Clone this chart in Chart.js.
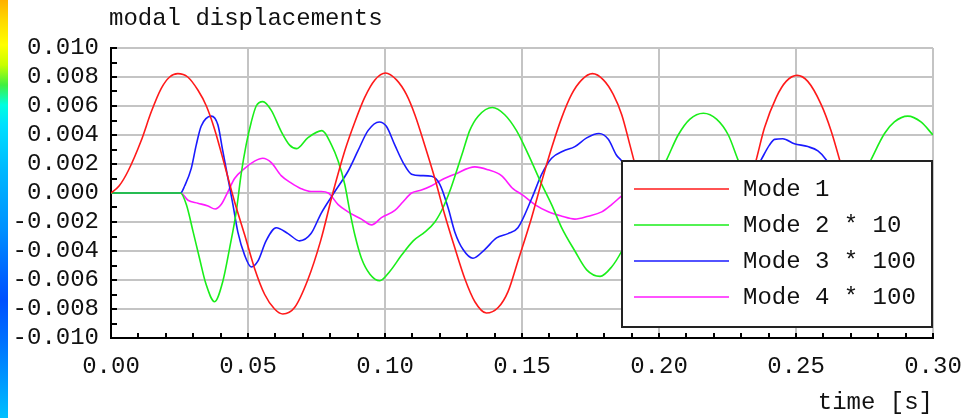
<!DOCTYPE html>
<html lang="en">
<head>
    <meta charset="UTF-8">
    <title>modal displacements</title>
    <script src="https://cdn.jsdelivr.net/npm/chart.js"></script>
    <style>
        html, body { margin: 0; padding: 0; background: #fff; }
        .wrap { position: relative; width: 977px; height: 418px; }
        /* colour strip of the window behind, on the left edge */
        .strip {
            position: absolute; left: 0; top: 0; width: 8px; height: 418px;
            background: linear-gradient(to bottom, #ffb000 0px, #ffd800 20px, #ffff00 45px, #c8ff00 65px,
                #40f040 85px, #00ffe0 105px, #00e0ff 125px, #00b8ff 170px, #0090ff 230px,
                #0060ff 280px, #0050ff 300px, #0070ff 340px, #0098ff 380px, #00c0ff 418px);
        }
    </style>
</head>
<body>
    <div class="wrap">
        <canvas id="modalChart" width="977" height="418"></canvas>
        <div class="strip"></div>
    </div>

    <script>
        // Mode 1 (time [s], displacement)
        const mode1T = [0, 0.003, 0.0062, 0.011, 0.0147, 0.0183, 0.0214, 0.0244, 0.028, 0.0317, 0.0348, 0.0378, 0.0415, 0.0451,
            0.0488, 0.0524, 0.0561, 0.0597, 0.0627, 0.067, 0.0718, 0.0765, 0.0811, 0.0853, 0.089, 0.0926, 0.0963, 0.1002,
            0.1042, 0.1078, 0.1109, 0.1145, 0.1182, 0.1218, 0.1255, 0.1291, 0.1328, 0.137, 0.1413, 0.1449, 0.1485, 0.1535,
            0.1572, 0.1608, 0.1645, 0.1681, 0.1718, 0.1757, 0.1797, 0.1833, 0.1864, 0.1894, 0.1945, 0.2, 0.206, 0.2131,
            0.22, 0.227, 0.2355, 0.2385, 0.2428, 0.2464, 0.2504, 0.2543, 0.2592, 0.2628, 0.2659, 0.27, 0.279, 0.288, 0.296, 0.3];
        const mode1V = [0, 0.0005, 0.0015, 0.0036, 0.0056, 0.0072, 0.008, 0.00823, 0.008, 0.0071, 0.006, 0.0044, 0.0019, -0.0006,
            -0.0029, -0.0052, -0.007, -0.008, -0.00834, -0.0079, -0.006, -0.0033, 0.0001, 0.0029, 0.0049, 0.0066, 0.0078, 0.00828,
            0.0078, 0.0068, 0.0054, 0.0033, 0.001, -0.0015, -0.0038, -0.0059, -0.0075, -0.00828, -0.0079, -0.0068, -0.0047, -0.0017,
            0.0008, 0.0031, 0.0052, 0.0068, 0.0078, 0.00823, 0.0078, 0.0068, 0.0054, 0.0033, -0.0005, -0.005, -0.0077, -0.0082,
            -0.0072, -0.0035, 0.0023, 0.0045, 0.0066, 0.0077, 0.00811, 0.0077, 0.0061, 0.0043, 0.0023, -0.0006, -0.0062, -0.0082, -0.0066, -0.005];

        // Mode 2 * 10
        const mode2T = [0, 0.0254, 0.0275, 0.03, 0.0323, 0.0347, 0.0378, 0.0408, 0.0433, 0.0457, 0.0475, 0.0493, 0.0512, 0.053,
            0.0554, 0.0585, 0.0621, 0.0652, 0.0678, 0.0718, 0.077, 0.0805, 0.0829, 0.0853, 0.0872, 0.089, 0.0914, 0.0945, 0.0981,
            0.1018, 0.106, 0.1103, 0.1145, 0.1182, 0.1212, 0.1236, 0.1261, 0.1285, 0.1309, 0.134, 0.1392, 0.1437, 0.148, 0.1522,
            0.1572, 0.1608, 0.1645, 0.1693, 0.1736, 0.1785, 0.1827, 0.1864, 0.19, 0.195, 0.199, 0.2028, 0.207, 0.2113, 0.2162,
            0.221, 0.2253, 0.2288, 0.233, 0.24, 0.247, 0.253, 0.259, 0.266, 0.272, 0.2774, 0.2823, 0.2859, 0.2908, 0.2956, 0.3];
        const mode2V = [0, 0, -0.0008, -0.0027, -0.0045, -0.0063, -0.0075, -0.0061, -0.0038, -0.0013, 0.0013, 0.0033, 0.0049, 0.006,
            0.0063, 0.0057, 0.00425, 0.0033, 0.00306, 0.0038, 0.0043, 0.0033, 0.0022, 0.0006, -0.0013, -0.0029, -0.0045, -0.0056, -0.00605,
            -0.0054, -0.0043, -0.0033, -0.0027, -0.002, -0.001, 0.0001, 0.0015, 0.0029, 0.0043, 0.0053, 0.0059, 0.0054, 0.0043, 0.0027,
            0.0006, -0.0008, -0.0024, -0.004, -0.0053, -0.00575, -0.0051, -0.004, -0.0025, -0.0006, 0.0009, 0.0023, 0.004, 0.0051, 0.0055,
            0.0051, 0.004, 0.0023, 0.0004, -0.0028, -0.0048, -0.0053, -0.0046, -0.0025, 0.0002, 0.0023, 0.0041, 0.0049, 0.0053, 0.0049, 0.004];

        // Mode 3 * 100
        const mode3T = [0, 0.0254, 0.0269, 0.0293, 0.0311, 0.0329, 0.0366, 0.039, 0.0408, 0.0427, 0.0445, 0.0463, 0.0488, 0.0512,
            0.0536, 0.0566, 0.0603, 0.0646, 0.0688, 0.073, 0.0767, 0.0817, 0.0865, 0.0901, 0.0938, 0.0979, 0.1005, 0.1036, 0.1066,
            0.1097, 0.1133, 0.117, 0.12, 0.123, 0.1255, 0.1285, 0.1321, 0.1364, 0.1407, 0.1449, 0.1485, 0.1535, 0.1572, 0.1608,
            0.1651, 0.1693, 0.1736, 0.1781, 0.1815, 0.1845, 0.1864, 0.19, 0.195, 0.2, 0.206, 0.212, 0.218, 0.224, 0.23, 0.2373,
            0.2403, 0.2422, 0.2452, 0.2494, 0.2543, 0.258, 0.261, 0.266, 0.272, 0.28, 0.29, 0.3];
        const mode3V = [0, 0, 0.0005, 0.0017, 0.0033, 0.0046, 0.0053, 0.0047, 0.0029, 0.001, -0.0008, -0.0027, -0.0043, -0.0051,
            -0.0047, -0.0033, -0.0024, -0.0028, -0.0033, -0.0028, -0.0014, 0.0001, 0.0015, 0.0029, 0.0043, 0.0049, 0.0046, 0.0033, 0.0021,
            0.0013, 0.0012, 0.00115, 0.0006, -0.001, -0.0027, -0.0039, -0.0045, -0.0039, -0.0031, -0.0028, -0.0024, -0.0004, 0.0013, 0.0024,
            0.0029, 0.0032, 0.0038, 0.0041, 0.0037, 0.0026, 0.0022, 0.0008, -0.0012, -0.0028, -0.0035, -0.003, -0.0022, -0.0014, -0.0002, 0.0023,
            0.0033, 0.0037, 0.00374, 0.0034, 0.0032, 0.0029, 0.0023, 0.0008, -0.0012, -0.003, -0.0032, -0.002];

        // Mode 4 * 100
        const mode4T = [0, 0.0254, 0.0281, 0.0317, 0.0354, 0.038, 0.0402, 0.0427, 0.0451, 0.0488, 0.0524, 0.0554, 0.0585, 0.0621,
            0.0657, 0.0694, 0.073, 0.0767, 0.0793, 0.0829, 0.0865, 0.0914, 0.0951, 0.0987, 0.1036, 0.1066, 0.1097, 0.1133, 0.117,
            0.1206, 0.1255, 0.1328, 0.1376, 0.1425, 0.1467, 0.1499, 0.1547, 0.1596, 0.1645, 0.1693, 0.1742, 0.1791, 0.1827, 0.1864,
            0.19, 0.2, 0.21, 0.22, 0.23, 0.24, 0.25, 0.26, 0.27, 0.28, 0.29, 0.3];
        const mode4V = [0, 0, -0.0005, -0.0007, -0.0009, -0.0011, -0.0008, 0.0001, 0.001, 0.0017, 0.0022, 0.0024, 0.0021, 0.0012,
            0.0007, 0.0003, 0.0001, 0.0001, 0, -0.0008, -0.0013, -0.0018, -0.0022, -0.0017, -0.0012, -0.0006, 0, 0.0002, 0.0005,
            0.0009, 0.0013, 0.0018, 0.0016, 0.0012, 0.0003, -0.0001, -0.0008, -0.0013, -0.0016, -0.0018, -0.0016, -0.0013, -0.0008, -0.0002,
            0.0003, 0.0012, 0.0016, 0.001, -0.0002, -0.0012, -0.0016, -0.001, 0, 0.0008, 0.0012, 0.0008];

        const seriesLabels = ['Mode 1', 'Mode 2 * 10', 'Mode 3 * 100', 'Mode 4 * 100'];
        const seriesColors = ['#ff1a1a', '#1aee1a', '#1a1aff', '#ff1aff'];

        const FONT = '"Liberation Mono", "DejaVu Sans Mono", monospace';

        function toPoints(ts, vs) {
            return ts.map((t, i) => ({ x: t, y: vs[i] }));
        }

        // title, inward tick marks and the boxed legend drawn over the curves
        const decorPlugin = {
            id: 'decor',
            beforeDatasetsDraw(chart) {
                const ctx = chart.ctx;
                const xs = chart.scales.x, ys = chart.scales.y;
                const area = chart.chartArea;
                ctx.save();
                ctx.strokeStyle = '#000';
                ctx.lineWidth = 2;
                ctx.beginPath();
                for (let i = -10; i <= 10; i++) {
                    const y = Math.round(ys.getPixelForValue(i / 1000));
                    ctx.moveTo(area.left, y);
                    ctx.lineTo(area.left + 6, y);
                }
                for (let i = 0; i <= 30; i++) {
                    const x = Math.round(xs.getPixelForValue(i / 100));
                    ctx.moveTo(x, area.bottom);
                    ctx.lineTo(x, area.bottom - 5);
                }
                ctx.stroke();

                ctx.fillStyle = '#111';
                ctx.font = '24px ' + FONT;
                ctx.textAlign = 'left';
                ctx.textBaseline = 'alphabetic';
                ctx.fillText('modal displacements', area.left - 2, 25);
                ctx.restore();
            },
            afterDatasetsDraw(chart) {
                const ctx = chart.ctx;
                const area = chart.chartArea;
                const bx = area.left + 510, by = area.top + 112, bw = 312, bh = 168;
                ctx.save();
                ctx.fillStyle = '#fff';
                ctx.fillRect(bx, by, bw, bh);
                ctx.strokeStyle = '#222';
                ctx.lineWidth = 2;
                ctx.strokeRect(bx + 1, by + 1, bw - 2, bh - 2);
                ctx.font = '24px ' + FONT;
                ctx.textAlign = 'left';
                ctx.textBaseline = 'alphabetic';
                chart.data.datasets.forEach((ds, i) => {
                    const ly = by + 29 + i * 36;
                    ctx.strokeStyle = ds.borderColor;
                    ctx.lineWidth = 1.6;
                    ctx.beginPath();
                    ctx.moveTo(bx + 13, ly);
                    ctx.lineTo(bx + 108, ly);
                    ctx.stroke();
                    ctx.fillStyle = '#111';
                    ctx.fillText(ds.label, bx + 122, ly + 7);
                });
                ctx.restore();
            }
        };

        const ctx = document.getElementById('modalChart').getContext('2d');
        const modalChart = new Chart(ctx, {
            type: 'line',
            data: {
                datasets: [
                    [mode1T, mode1V], [mode2T, mode2V], [mode3T, mode3V], [mode4T, mode4V]
                ].map(([ts, vs], i) => ({
                    label: seriesLabels[i],
                    data: toPoints(ts, vs),
                    borderColor: seriesColors[i],
                    borderWidth: 1.6,
                    pointRadius: 0,
                    cubicInterpolationMode: 'monotone',
                    fill: false
                }))
            },
            options: {
                responsive: false,
                animation: false,
                events: [],
                layout: { padding: { top: 48, right: 44, left: 0, bottom: 0 } },
                font: { family: FONT },
                plugins: {
                    legend: { display: false },
                    tooltip: { enabled: false },
                    title: { display: false }
                },
                scales: {
                    x: {
                        type: 'linear',
                        min: 0,
                        max: 0.3,
                        afterFit: (scale) => { scale.height = 80; },
                        ticks: {
                            stepSize: 0.05,
                            padding: 14,
                            autoSkip: false,
                            color: '#111',
                            font: { family: FONT, size: 24 },
                            maxRotation: 0,
                            callback: (v) => Number(v).toFixed(2)
                        },
                        grid: { color: '#c4c4c4', lineWidth: 2, drawTicks: false },
                        border: { color: '#000', width: 2 },
                        title: {
                            display: true,
                            text: 'time [s]',
                            align: 'end',
                            color: '#111',
                            font: { family: FONT, size: 24 },
                            padding: { top: 0, bottom: 1 }
                        }
                    },
                    y: {
                        min: -0.01,
                        max: 0.01,
                        afterFit: (scale) => { scale.width = 111; },
                        ticks: {
                            stepSize: 0.002,
                            padding: 12,
                            autoSkip: false,
                            color: '#111',
                            font: { family: FONT, size: 24 },
                            callback: (v) => (Math.abs(v) < 1e-9 ? 0 : v).toFixed(3)
                        },
                        grid: { color: '#c4c4c4', lineWidth: 2, drawTicks: false },
                        border: { color: '#000', width: 2 }
                    }
                }
            },
            plugins: [decorPlugin]
        });
    </script>
</body>
</html>
